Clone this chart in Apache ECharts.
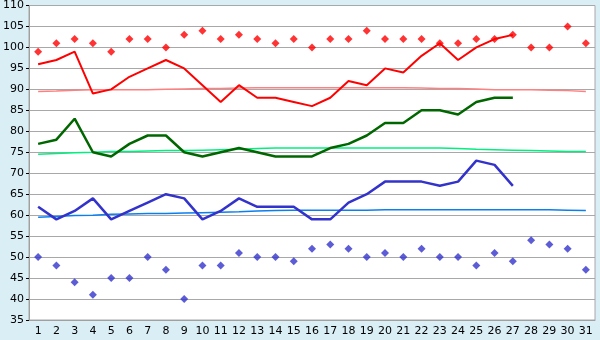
<!DOCTYPE html>
<html>
<head>
<meta charset="utf-8">
<script src="https://cdn.jsdelivr.net/npm/echarts@6/dist/echarts.min.js"></script>
<style>
  html, body { margin: 0; padding: 0; background: #daeef5; }
  #chart { width: 600px; height: 340px; }
</style>
</head>
<body>
<div id="chart"></div>
<script>
// 数据
var days = [];
for (var d = 1; d <= 31; d++) days.push(String(d));

var redPoints = [99, 101, 102, 101, 99, 102, 102, 100, 103, 104, 102, 103, 102, 101, 102, 100,
  102, 102, 104, 102, 102, 102, 101, 101, 102, 102, 103, 100, 100, 105, 101];
var redLine = [96, 97, 99, 89, 90, 93, 95, 97, 95, 91, 87, 91, 88, 88, 87, 86,
  88, 92, 91, 95, 94, 98, 101, 97, 100, 102, 103];
var redTrend = [89.5, 89.6, 89.8, 89.9, 89.9, 89.9, 89.9, 90.0, 90.1, 90.2, 90.2, 90.3, 90.4, 90.4, 90.4, 90.4,
  90.4, 90.4, 90.4, 90.4, 90.4, 90.3, 90.2, 90.2, 90.1, 89.9, 89.9, 89.9, 89.8, 89.7, 89.5];

var greenLine = [77, 78, 83, 75, 74, 77, 79, 79, 75, 74, 75, 76, 75, 74, 74, 74,
  76, 77, 79, 82, 82, 85, 85, 84, 87, 88, 88];
var greenTrend = [74.5, 74.7, 74.9, 75.0, 75.2, 75.2, 75.3, 75.4, 75.4, 75.5, 75.6, 75.7, 75.9, 76.0, 76.0, 76.0,
  76.0, 76.0, 76.0, 76.0, 76.0, 76.0, 76.0, 75.9, 75.7, 75.6, 75.5, 75.4, 75.3, 75.2, 75.2];

var blueLine = [62, 59, 61, 64, 59, 61, 63, 65, 64, 59, 61, 64, 62, 62, 62, 59,
  59, 63, 65, 68, 68, 68, 67, 68, 73, 72, 67];
var blueTrend = [59.5, 59.7, 59.9, 60.0, 60.2, 60.3, 60.4, 60.4, 60.5, 60.6, 60.7, 60.8, 61.0, 61.1, 61.2, 61.2,
  61.2, 61.2, 61.2, 61.3, 61.3, 61.3, 61.3, 61.3, 61.3, 61.3, 61.3, 61.3, 61.3, 61.2, 61.1];
var bluePoints = [50, 48, 44, 41, 45, 45, 50, 47, 40, 48, 48, 51, 50, 50, 49, 52,
  53, 52, 50, 51, 50, 52, 50, 50, 48, 51, 49, 54, 53, 52, 47];

var yTicks = { min: 35, max: 110, interval: 5 };

function lineSeries(data, color, width, z) {
  return {
    type: "line",
    data: data,
    symbol: "none",
    z: z,
    lineStyle: { color: color, width: width },
    animation: false
  };
}

function pointSeries(data, color) {
  return {
    type: "scatter",
    data: data,
    symbol: "diamond",
    symbolSize: 8,
    z: 5,
    itemStyle: { color: color },
    animation: false
  };
}

var option = {
  backgroundColor: "#daeef5",
  textStyle: { fontFamily: "DejaVu Sans" },
  grid: {
    left: 26,
    right: 5,
    top: 5,
    bottom: 20,
    show: true,
    backgroundColor: "#ffffff",
    borderColor: "#a8a8a8",
    borderWidth: 1
  },
  xAxis: {
    type: "category",
    data: days,
    boundaryGap: true,
    axisLine: { lineStyle: { color: "#a0a0a0" } },
    axisTick: { alignWithLabel: true, length: 4, lineStyle: { color: "#000" } },
    axisLabel: { color: "#000", fontSize: 11, margin: 6, interval: 0 },
    splitLine: { show: false }
  },
  yAxis: {
    type: "value",
    min: yTicks.min,
    max: yTicks.max,
    interval: yTicks.interval,
    axisLine: { show: true, lineStyle: { color: "#a0a0a0" } },
    axisTick: { show: true, length: 3, lineStyle: { color: "#000" } },
    axisLabel: { color: "#000", fontSize: 11, margin: 5 },
    splitLine: { lineStyle: { color: "#a8a8a8", width: 1 } }
  },
  series: [
    lineSeries(redTrend, "#ff8080", 1.5, 2),
    lineSeries(greenTrend, "#00f080", 1.5, 2),
    lineSeries(blueTrend, "#0a7ff0", 1.5, 2),
    lineSeries(redLine, "#ff0000", 2, 3),
    lineSeries(greenLine, "#006600", 2.5, 3),
    lineSeries(blueLine, "#3333cc", 2.5, 3),
    pointSeries(redPoints, "#ff0000"),
    pointSeries(bluePoints, "#3333cc")
  ]
};

var chart = echarts.init(document.getElementById("chart"));
chart.setOption(option);
</script>
</body>
</html>
